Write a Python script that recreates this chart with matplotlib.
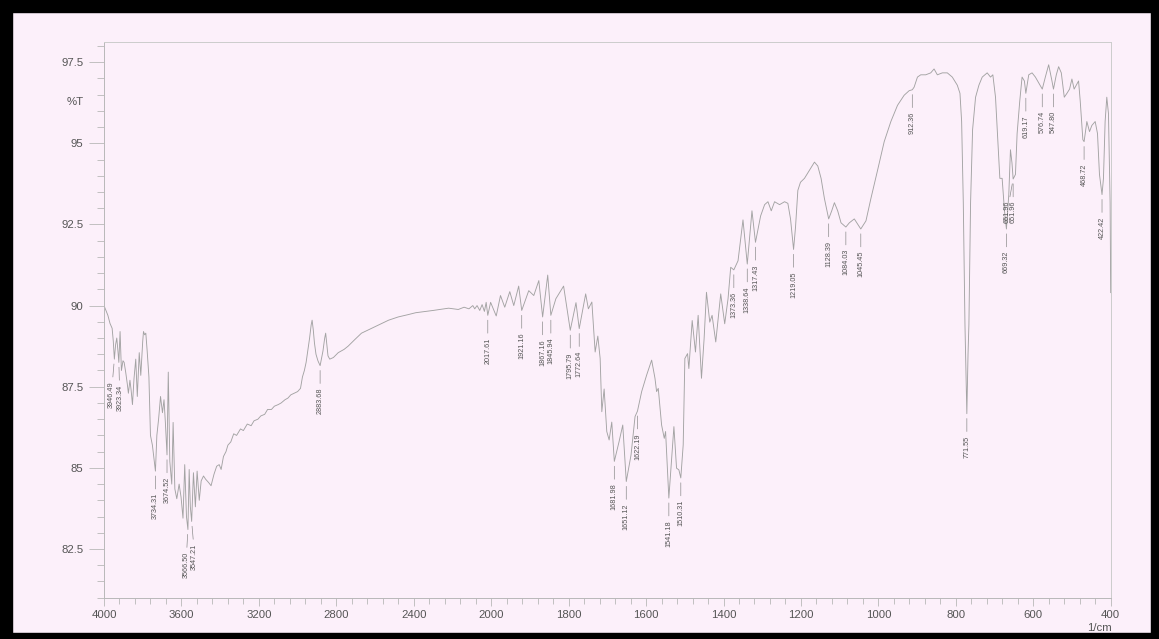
import numpy as np
import matplotlib
matplotlib.use("Agg")
import matplotlib.pyplot as plt
from matplotlib.patches import Rectangle
from matplotlib.ticker import FixedLocator, NullFormatter

plt.rcParams["font.family"] = ["Liberation Sans", "DejaVu Sans"]

# FTIR spectrum: wavenumber (1/cm) and transmittance (%T)
wavenumber = [
    4000, 3990, 3980, 3969, 3958, 3952, 3946.49, 3940, 3934, 3928, 3923.34, 3917,
    3910, 3902, 3896, 3888, 3880, 3874, 3866, 3860, 3853, 3845, 3836, 3828, 3818,
    3810, 3800, 3796, 3790, 3784, 3777, 3768, 3760, 3750, 3742, 3734.31, 3727,
    3718, 3708, 3698, 3690, 3683, 3674.52, 3668, 3660, 3650, 3643, 3634, 3624,
    3612, 3602, 3592, 3583, 3574, 3566.50, 3560, 3554, 3547.21, 3538, 3528, 3519,
    3508, 3498, 3486, 3475, 3460, 3447, 3432, 3418, 3405, 3395, 3383, 3370, 3360,
    3345, 3330, 3315, 3295, 3280, 3260, 3240, 3225, 3205, 3190, 3170, 3155, 3135,
    3120, 3100, 3085, 3065, 3050, 3035, 3017, 3000, 2985, 2975, 2965, 2956, 2945,
    2938, 2930, 2925, 2919, 2913, 2905, 2895, 2883.68, 2869, 2860, 2855, 2849,
    2843, 2834, 2815, 2790, 2760, 2739, 2705, 2670, 2635, 2600, 2566, 2530, 2480,
    2430, 2390, 2300, 2220, 2170, 2140, 2115, 2095, 2085, 2073, 2059, 2047, 2035,
    2026, 2017.61, 2003, 1987, 1976, 1965, 1952, 1941.7, 1929, 1921.16, 1903, 1890,
    1877, 1867.16, 1854, 1845.94, 1833, 1813, 1795.79, 1781, 1772.64, 1756, 1749,
    1740, 1731.5, 1724.6, 1718.6, 1714.3, 1708.3, 1701.5, 1695.4, 1688.6, 1681.98,
    1669.7, 1660.2, 1651.12, 1638.8, 1628.5, 1622.19, 1611.4, 1598.5, 1585.6, 1577,
    1572.8, 1568.5, 1559.9, 1553, 1549.6, 1541.18, 1528.1, 1521.3, 1515.3, 1510.31,
    1504.1, 1499.8, 1492.9, 1489.5, 1480.9, 1472.4, 1465.5, 1456.9, 1450.1, 1444,
    1435.5, 1429.5, 1420, 1407.2, 1396.9, 1388.3, 1381.4, 1373.36, 1362.5, 1349.7,
    1338.64, 1326.5, 1317.43, 1304.2, 1293.8, 1285.2, 1276.7, 1268.1, 1255.2,
    1242.3, 1233.8, 1226.9, 1219.05, 1214, 1208, 1201.2, 1190.9, 1178, 1165.1,
    1156.5, 1148, 1139.4, 1128.39, 1120.5, 1113.6, 1105.1, 1096.5, 1084.03, 1075,
    1062.2, 1051.9, 1045.45, 1032.1, 1019.3, 1002.1, 985, 967.8, 950.6, 933.5,
    920.6, 912.36, 907.7, 899.1, 890.6, 877.7, 864.8, 856.2, 847.7, 834.8, 822,
    809.1, 796.2, 789.3, 785, 780.7, 776.4, 771.55, 768.5, 766.2, 761.9, 756.7, 749,
    740.4, 731.8, 719, 710.4, 704.4, 697.5, 691.5, 686.3, 680.4, 674.3, 669.32,
    663.2, 658.9, 655, 651.96, 646, 641.7, 634.9, 628.9, 622.9, 619.17, 611.7, 603.1,
    594.5, 586, 576.74, 568.8, 560.2, 551.7, 547.80, 540.5, 534.5, 527.6, 519.9, 513,
    506.2, 500.2, 494.4, 489, 483, 478.7, 471.9, 468.72, 461.6, 454.7, 448.7, 440.1,
    434.1, 429, 422.42, 418.7, 414.4, 410.1, 405.8, 401.5, 400,
]
transmittance = [
    90.0, 89.85, 89.7, 89.45, 89.3, 88.9, 88.35, 88.8, 89.0, 88.6, 88.25, 89.2,
    88.0, 88.3, 88.25, 87.95, 87.6, 87.3, 87.7, 87.4, 86.95, 87.75, 88.35, 87.2, 88.55,
    87.85, 88.9, 89.2, 89.1, 89.15, 88.6, 87.8, 86.0, 85.7, 85.3, 84.9, 86.0,
    86.5, 87.2, 86.7, 87.1, 86.4, 85.4, 87.95, 85.2, 84.5, 86.4, 84.35, 84.05,
    84.5, 84.1, 83.45, 85.1, 83.5, 83.1, 84.95, 83.8, 83.35, 84.85, 83.8, 84.9,
    84.0, 84.6, 84.75, 84.65, 84.55, 84.45, 84.8, 85.05, 85.1, 84.95, 85.35, 85.5, 85.7,
    85.8, 86.05, 86.0, 86.2, 86.15, 86.35, 86.3, 86.45, 86.5, 86.6, 86.65, 86.8, 86.8,
    86.9, 86.95, 87.0, 87.1, 87.15, 87.25, 87.3, 87.35, 87.45, 87.8, 88.0, 88.25, 88.7,
    89.0, 89.4, 89.55, 89.25, 88.85, 88.5, 88.3, 88.15, 88.6, 89.0, 89.15, 88.8,
    88.45, 88.35, 88.4, 88.55, 88.65, 88.75, 88.95, 89.15, 89.25, 89.35, 89.45, 89.55, 89.65,
    89.72, 89.78, 89.85, 89.92, 89.88, 89.95, 89.9, 90.0, 89.9, 90.0, 89.85, 90.03, 89.82,
    90.1, 89.7, 90.1, 89.68, 90.31, 89.95, 90.43, 90.0, 90.6, 89.85, 90.46, 90.31,
    90.77, 89.65, 90.94, 89.7, 90.21, 90.6, 89.24, 90.09, 89.29, 90.36, 89.9,
    90.11, 88.57, 89.06, 88.37, 86.73, 87.43, 86.12, 85.86, 86.41, 85.2,
    85.81, 86.32, 84.58, 85.4, 86.58, 86.75, 87.35, 87.86, 88.32, 87.76,
    87.35, 87.45, 86.32, 85.91, 86.12, 84.07, 86.27, 84.99, 84.94, 84.69,
    85.71, 88.37, 88.52, 88.06, 89.54, 88.57, 89.7, 87.76, 88.98, 90.41,
    89.49, 89.7, 88.88, 90.36, 89.44, 90.21, 91.18, 91.1, 91.38, 92.64,
    91.28, 92.92, 91.95, 92.76, 93.11, 93.2, 92.92, 93.2, 93.11,
    93.2, 93.15, 92.67, 91.73, 92.42, 93.55, 93.8, 93.92, 94.17, 94.42,
    94.3, 93.92, 93.3, 92.67, 92.92, 93.17, 92.92, 92.55, 92.42, 92.55,
    92.67, 92.48, 92.36, 92.61, 93.3, 94.17, 95.05, 95.67, 96.17, 96.48,
    96.62, 96.65, 96.73, 97.04, 97.11, 97.11, 97.17, 97.29, 97.11, 97.17, 97.17,
    97.04, 96.79, 96.54, 95.67, 93.17, 89.42, 86.67, 88.5, 89.42, 93.17, 95.42, 96.42,
    96.79, 97.04, 97.17, 97.04, 97.11, 96.42, 95.05, 93.92, 93.92, 92.92, 92.36,
    93.42, 94.8, 94.4, 93.9, 94.04, 95.3, 96.3, 97.04, 96.92, 96.54, 97.11, 97.17,
    97.04, 96.86, 96.67, 97.04, 97.42, 96.92, 96.67, 97.11, 97.36, 97.17, 96.42, 96.54,
    96.67, 96.98, 96.67, 96.79, 96.92, 96.3, 95.11, 95.05, 95.67, 95.36, 95.55, 95.67,
    95.3, 94.04, 93.42, 93.92, 95.67, 96.42, 95.92, 93.17, 90.4,
]

# Picked peaks (1/cm)
peak_positions = [
    3946.49, 3923.34, 3734.31, 3674.52, 3566.50, 3547.21, 2883.68, 2017.61,
    1921.16, 1867.16, 1845.94, 1795.79, 1772.64, 1681.98, 1651.12, 1622.19,
    1541.18, 1510.31, 1373.36, 1338.64, 1317.43, 1219.05, 1128.39, 1084.03,
    1045.45, 912.36, 771.55, 669.32, 651.96, 651.96, 619.17, 576.74, 547.80,
    468.72, 422.42,
]

x_major_ticks = [4000, 3600, 3200, 2800, 2400, 2000, 1800, 1600, 1400, 1200,
                 1000, 800, 600, 400]
y_major_ticks = [82.5, 85, 87.5, 90, 92.5, 95, 97.5]

# label nudges in pixels (index into peak_positions -> horizontal shift)
label_shift = {0: -3, 1: 1, 4: -2, 5: 3, 28: -6}

BG = "#fcf0fa"
LINE = "#a3a3a3"
TEXT = "#555555"
AXIS = "#b8b8b8"


def _fwd(x):
    x = np.asarray(x, dtype=float)
    return np.where(x > 2000, 2000 + (x - 2000) / 2.0, x)


def _inv(u):
    u = np.asarray(u, dtype=float)
    return np.where(u > 2000, 2000 + (u - 2000) * 2.0, u)


W, H = 1159, 639
fig = plt.figure(figsize=(W / 100, H / 100), dpi=100)
fig.patch.set_facecolor(BG)

ax = fig.add_axes([104 / W, 1 - 597.7 / H, (1110.7 - 104) / W, (597.7 - 41.7) / H])
ax.set_facecolor(BG)
ax.set_xscale("function", functions=(_fwd, _inv))
ax.set_xlim(4000, 400)
ax.set_ylim(81.0, 98.13)

wn = np.asarray(wavenumber, dtype=float)
tr = np.asarray(transmittance, dtype=float)
ax.plot(wn, tr, color=LINE, lw=0.65, solid_joinstyle="round")

# ticks
x_minor = [v for v in list(range(4000, 2000, -80)) + list(range(2000, 399, -40))
           if v not in x_major_ticks]
ax.xaxis.set_major_locator(FixedLocator(x_major_ticks))
ax.xaxis.set_minor_locator(FixedLocator(x_minor))
ax.set_xticklabels([str(v) for v in x_major_ticks])
ax.xaxis.set_minor_formatter(NullFormatter())

y_minor = [round(v, 2) for v in np.arange(81.0, 98.01, 0.5) if round(v, 2) not in y_major_ticks]
ax.yaxis.set_major_locator(FixedLocator(y_major_ticks))
ax.yaxis.set_minor_locator(FixedLocator(y_minor))
ax.set_yticklabels(["82.5", "85", "87.5", "90", "92.5", "95", "97.5"])

ax.tick_params(axis="y", which="major", length=11, width=0.6, color=AXIS,
               pad=4, labelsize=8.2, labelcolor=TEXT)
ax.tick_params(axis="y", which="minor", length=5, width=0.6, color=AXIS)
ax.tick_params(axis="x", which="major", length=6, width=0.6, color=AXIS,
               pad=3, labelsize=8.2, labelcolor=TEXT)
ax.tick_params(axis="x", which="minor", length=4, width=0.6, color=AXIS)

for s in ax.spines.values():
    s.set_color("#cccccc")
    s.set_linewidth(0.7)
ax.spines["left"].set_color(AXIS)
ax.spines["bottom"].set_color(AXIS)

# peak labels with leader lines
order = np.argsort(wn)
for i, p in enumerate(peak_positions):
    t0 = np.interp(p, wn[order], tr[order])
    dx = label_shift.get(i, 0)
    ax.annotate(f"{p:.2f}", xy=(p, t0), xycoords="data",
                xytext=(dx, -22), textcoords="offset pixels",
                rotation=90, ha="center", va="top", fontsize=5.2, color=TEXT,
                arrowprops=dict(arrowstyle="-", color="#8c8c8c", lw=0.5,
                                shrinkA=1, shrinkB=3.5))

fig.text(75 / W, 1 - 102 / H, "%T", ha="center", va="center", fontsize=8.2, color=TEXT)
fig.text(1099 / W, 1 - 628 / H, "1/cm", ha="center", va="center", fontsize=8.2, color=TEXT)

# page frame
frame = dict(transform=fig.transFigure, color="black", zorder=10)
fig.add_artist(Rectangle((0, 1 - 12 / H), 1, 12 / H, **frame))
fig.add_artist(Rectangle((0, 0), 12 / W, 1, **frame))
fig.add_artist(Rectangle((0, 0), 1, 6 / H, **frame))
fig.add_artist(Rectangle((1 - 8 / W, 0), 8 / W, 1, **frame))

fig.savefig("out.png", dpi=100, facecolor=BG)
